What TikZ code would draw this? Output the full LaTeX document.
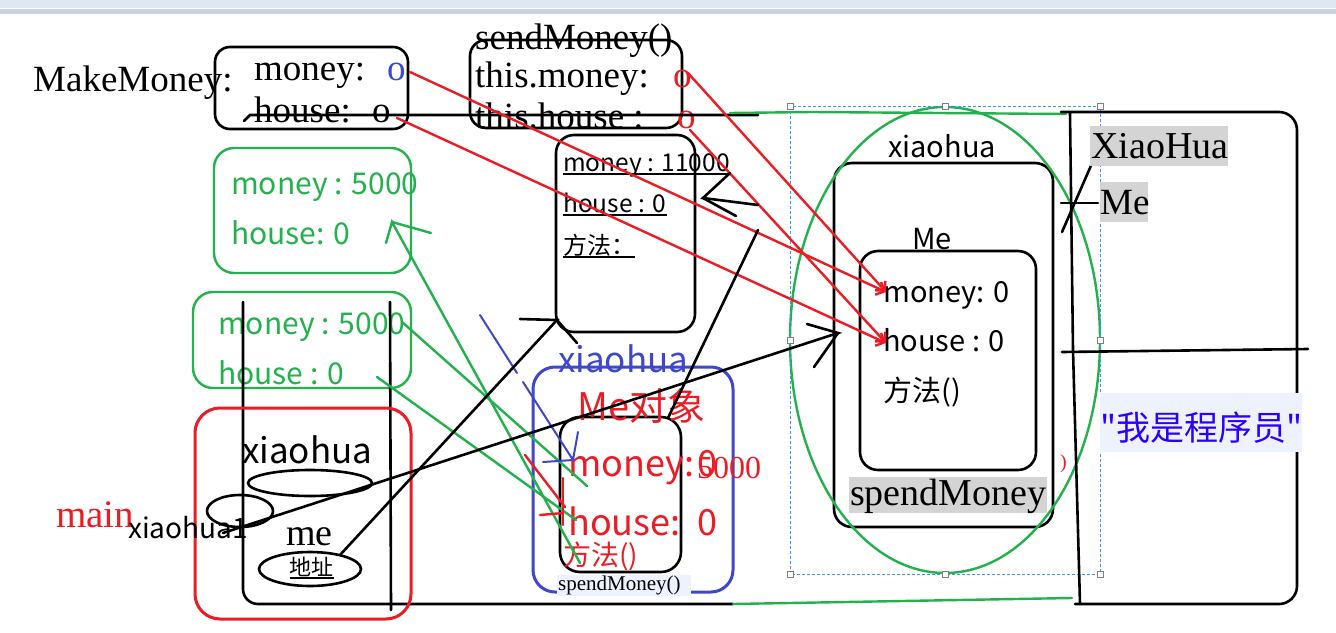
\documentclass[tikz,border=0pt]{standalone}
\usepackage{fontspec}
\setmainfont{Liberation Serif}
\newfontfamily\ya{Noto Sans CJK SC}
\usetikzlibrary{arrows.meta}
\definecolor{G}{HTML}{22B14C}
\definecolor{R}{HTML}{ED1C24}
\definecolor{B}{HTML}{3F48CC}
\definecolor{V}{HTML}{2B00FF}
\definecolor{SEL}{HTML}{3399FF}
\definecolor{GRY}{HTML}{D4D4D4}
\definecolor{PALE}{HTML}{EEF2FF}
\definecolor{barA}{HTML}{DFE7F4}
\definecolor{barB}{HTML}{C8D1E1}
\newcommand\fsz[1]{\fontsize{#1}{#1}\selectfont}
\begin{document}
\begin{tikzpicture}[x=1pt,y=-1pt,
  txt/.style={inner sep=0pt, anchor=base west},
  kline/.style={line width=2.6pt, black, line cap=round},
  gline/.style={line width=2.4pt, G, line cap=round},
  rline/.style={line width=2.4pt, R, line cap=round},
  bline/.style={line width=2pt, B, line cap=round},
  uline/.style={line width=1.2pt, black},
  handle/.style={draw=gray, fill=white, line width=0.6pt, minimum size=6pt, inner sep=0pt, shape=rectangle}]
\useasboundingbox (0,0) rectangle (1336,632);
\fill[white] (0,0) rectangle (1336,632);
\fill[barA] (0,0) rectangle (1336,8);
\fill[barB] (0,9) rectangle (1336,14);

% ---------- MakeMoney box ----------
\node[txt, font=\fsz{37}] (mk) at (33,91) {MakeMoney:};
\draw[kline, rounded corners=15pt] (215,47) rectangle (408,129);
\node[txt, font=\fsz{37}] (m1) at (254,80) {money:};
\node[txt, font=\fsz{37}, text=B] (m1v) at (387,80) {o};
\node[txt, font=\fsz{37}] (h1) at (254,122) {house:};
\node[txt, font=\fsz{37}] (h1v) at (372,122) {o};

% ---------- sendMoney box ----------
\node[txt, font=\fsz{37}] (sm) at (475,49) {sendMoney()};
\draw[kline, rounded corners=16pt] (470,40) rectangle (682,128);
\node[txt, font=\fsz{37}] (tm) at (475,87) {this.money:};
\node[txt, font=\fsz{37}, text=R] (tmv) at (673,87) {o};
\node[txt, font=\fsz{37}] (th) at (475,128) {this.house :};
\node[txt, font=\fsz{37}, text=R] (thv) at (677,128) {o};

% long top lines
\coordinate (tl0) at (244,121);
\coordinate (tl1) at (250,115);
\coordinate (tl2) at (758,115);
\draw[kline] (tl0) -- (tl1) -- (tl2);
\coordinate (gl0) at (730,113);
\coordinate (gl1) at (812,112);
\coordinate (gl2) at (1066,114);
\draw[gline] (gl0) -- (gl1) -- (gl2);

% ---------- green boxes ----------
\draw[gline, rounded corners=20pt] (214,148) rectangle (411,273);
\node[txt, font=\ya\fsz{30}, text=G] (g1m) at (231,194) {money : 5000};
\node[txt, font=\ya\fsz{30}, text=G] (g1h) at (231,244) {house: 0};
\draw[gline, rounded corners=20pt] (193,292) rectangle (411,388);
\node[txt, font=\ya\fsz{30}, text=G] (g2m) at (218,334) {money : 5000};
\node[txt, font=\ya\fsz{30}, text=G] (g2h) at (218,384) {house : 0};

% ---------- middle object box ----------
\draw[kline, rounded corners=18pt] (556,135) rectangle (695,332);
\node[txt, font=\ya\fsz{24.5}] (om) at (563,171) {money : 11000};
\draw[uline] (563,174) -- (730,174);
\node[txt, font=\ya\fsz{24.5}] (oh) at (563,212) {house : 0};
\draw[uline] (563,215) -- (667,215);
\node[txt, font=\ya\fsz{24}] (of) at (563,254) {方法：};
\draw[uline] (563,257) -- (635,257);

% ---------- main frame ----------
\draw[kline, rounded corners=15pt] (243,302) -- (243,604) -- (733,604);
\draw[kline] (390,302) -- (391,610);
\draw[R, line width=3pt, rounded corners=25pt] (195,408) rectangle (411,619);
\node[txt, font=\fsz{39}, text=R] (mn) at (56,527) {main};
\node[txt, font=\ya\fsz{28}] (x1) at (128,538) {xiaohua1};
\draw[kline] (240,511) ellipse [x radius=33, y radius=16];
\node[txt, font=\ya\fsz{35}] (xh) at (242,463) {xiaohua};
\draw[kline] (310,483) ellipse [x radius=62, y radius=13];
\node[txt, font=\fsz{38}] (me) at (286,545) {me};
\draw[kline] (310,569) ellipse [x radius=51, y radius=17];
\node[font=\ya\fsz{22}, inner sep=0pt] (addr) at (311,567) {地址};
\draw[uline] (290,578) -- (334,578);

% ---------- blue box ----------
\draw[B, line width=3pt, rounded corners=22pt] (533,367) rectangle (733,592);
\draw[kline, rounded corners=20pt] (560,417) rectangle (681,572);
\node[txt, font=\ya\fsz{35}, text=B] (bx) at (558,372) {xiaohua};
\node[txt, font=\ya\fsz{38}, text=R] (meo) at (577,420) {Me对象};
\begin{scope}
\clip (690,440) rectangle (759,490);
\node[txt, font=\fsz{32}, text=R] (five) at (697,478) {5000};
\end{scope}
\node[txt, font=\ya\fsz{36}, text=R] (bm) at (568,476) {money:};
\node[txt, font=\ya\fsz{36}, text=R] (bmv) at (697,476) {0};
\node[txt, font=\ya\fsz{36}, text=R] (bh) at (568,535) {house:};
\node[txt, font=\ya\fsz{36}, text=R] (bhv) at (697,535) {0};
\node[txt, font=\ya\fsz{28}, text=R] (bf) at (563,565) {方法()};
\fill[PALE] (557,575) rectangle (691,596);
\node[txt, font=\fsz{21}] (bsp) at (558,590) {spendMoney()};

% ---------- xiaohua object ----------
\draw[kline, rounded corners=18pt] (834,163) rectangle (1053,527);
\draw[kline, rounded corners=18pt] (860,251) rectangle (1036,470);
\node[txt, font=\ya\fsz{29}] (xt) at (888,157) {xiaohua};
\node[txt, font=\ya\fsz{29}] (xme) at (912,249) {Me};
\node[txt, font=\ya\fsz{29}] (xm) at (883,302) {money: 0};
\node[txt, font=\ya\fsz{29}] (xhs) at (883,351) {house : 0};
\node[txt, font=\ya\fsz{29}] (xf) at (883,401) {方法()};
\fill[GRY] (849,477) rectangle (1047,513);
\node[txt, font=\fsz{38}] (xsp) at (850,505) {spendMoney};
\node[txt, font=\fsz{20}, text=R] (par) at (1060,468) {)};

\draw[gline] (945,340) ellipse [x radius=155, y radius=233];

% selection
\draw[SEL, line width=0.8pt, dash pattern=on 3pt off 2pt] (790,106) rectangle (1100,574);
\foreach \p/\q [count=\i] in {790/106,945/106,1100/106,790/340,1100/340,790/574,945/574,1100/574}
  \node[handle] (hd\i) at (\p,\q) {};

% ---------- right box ----------
\draw[kline, rounded corners=18pt] (1061,112) -- (1297,112) -- (1297,604) -- (1075,604);
\draw[kline] (1070,113) -- (1073,350) -- (1080,604);
\draw[kline] (1062,352) -- (1308,349);
\draw[kline] (1061,203) -- (1098,203);
\draw[kline] (1062,232) -- (1100,145);
\fill[GRY] (1090,126) rectangle (1228,166);
\node[txt, font=\fsz{38}] (XH) at (1091,158) {XiaoHua};
\fill[GRY] (1100,182) rectangle (1148,222);
\node[txt, font=\fsz{37}] (ME) at (1100,214) {Me};
\fill[PALE] (1100,393) rectangle (1302,452);
\node[txt, font=\ya\fsz{34}, text=V] (prog) at (1100,440) {"我是程序员"};

% bottom line
\draw[gline] (733,604) -- (1072,598);

% ---------- red arrows ----------
\coordinate (ra) at (410,72);
\coordinate (rc) at (688,73);
\coordinate (rb) at (397,118);
\coordinate (rd) at (690,130);
\coordinate (tmoney) at (886,292);
\coordinate (thouse) at (886,343);
\draw[rline, -{Straight Barb[length=7pt]}] (ra) -- (tmoney);
\draw[rline, -{Straight Barb[length=7pt]}] (rc) -- (tmoney);
\draw[rline, -{Straight Barb[length=7pt]}] (rb) -- (thouse);
\draw[rline, -{Straight Barb[length=7pt]}] (rd) -- (thouse);

% ---------- green strokes ----------
\coordinate (ga) at (580,563);
\coordinate (gt) at (392,222);
\draw[gline] (ga) -- (gt) -- (386,243);
\draw[gline] (gt) -- (431,233);
\draw[gline] (402,322) -- (587,486);
\draw[gline] (377,377) -- (576,520);

% ---------- red small strokes ----------
\draw[rline] (525,455) -- (565,507);
\draw[rline] (563,478) -- (563,525);
\draw[rline] (540,515) -- (563,513);

% ---------- blue strokes ----------
\draw[bline] (480,315) -- (517,373);
\draw[bline] (523,382) -- (573,460) -- (543,462);
\draw[bline] (573,460) -- (578,432);

% ---------- black arrows ----------
\coordinate (k1s) at (223,533);
\coordinate (k1e) at (838,333);
\draw[kline] (k1s) -- (k1e) -- (807,324);
\draw[kline] (k1e) -- (814,367);
\coordinate (k2s) at (340,555);
\coordinate (k2e) at (557,320);
\draw[kline] (k2s) -- (k2e) -- (520,319);
\draw[kline] (k2e) -- (577,343);
\draw[kline] (668,418) -- (758,230);
\coordinate (k3s) at (758,205);
\coordinate (k3e) at (703,198);
\draw[kline] (k3s) -- (k3e) -- (730,173);
\draw[kline] (k3e) -- (736,216);
\end{tikzpicture}
\end{document}
